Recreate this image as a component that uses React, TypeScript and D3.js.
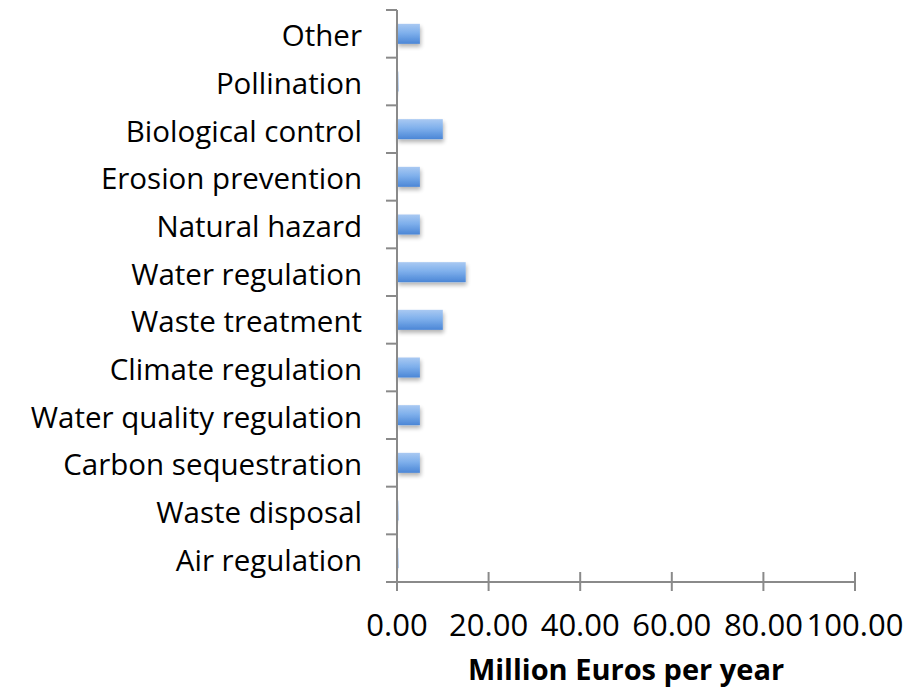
import React from "react";
import * as d3 from "d3";

const categories = [
  "Other",
  "Pollination",
  "Biological control",
  "Erosion prevention",
  "Natural hazard",
  "Water regulation",
  "Waste treatment",
  "Climate regulation",
  "Water quality regulation",
  "Carbon sequestration",
  "Waste disposal",
  "Air regulation",
];
const values = [5, 0.3, 10, 5, 5, 15, 10, 5, 5, 5, 0.3, 0.3];
const xTicks = [0, 20, 40, 60, 80, 100];
const xTitle = "Million Euros per year";

const W = 912;
const H = 689;
const FONT = "'Open Sans', 'Noto Sans', sans-serif";

export default function App() {
  const x = d3.scaleLinear().domain([0, 100]).range([397, 855]);
  const y = d3.scaleBand().domain(categories).range([10, 582]).paddingInner(0.58).paddingOuter(0.29);
  const bandEdges = d3.range(categories.length + 1).map((i) => 10 + i * (572 / categories.length));
  const axisColor = "#8a8a8a";
  return (
    <div style={{ position: "absolute", left: 0, top: 0, margin: 0 }}>
      <svg width={W} height={H} style={{ display: "block", background: "#fff" }}>
        <defs>
          <linearGradient id="barGrad" x1="0" y1="0" x2="0" y2="1">
            <stop offset="0%" stopColor="#a9c9f2" />
            <stop offset="45%" stopColor="#7fb0ec" />
            <stop offset="100%" stopColor="#4b86d6" />
          </linearGradient>
          <filter id="shadow" x="-20%" y="-30%" width="140%" height="190%">
            <feGaussianBlur in="SourceAlpha" stdDeviation="2" />
            <feOffset dx="1" dy="3" result="b" />
            <feComponentTransfer>
              <feFuncA type="linear" slope="0.3" />
            </feComponentTransfer>
            <feMerge>
              <feMergeNode />
              <feMergeNode in="SourceGraphic" />
            </feMerge>
          </filter>
        </defs>
        {categories.map((c, i) => (
          <rect
            key={c}
            x={x(0)}
            y={y(c)!}
            width={Math.max(x(values[i]) - x(0), 0.5)}
            height={y.bandwidth()}
            fill="url(#barGrad)"
            filter="url(#shadow)"
          />
        ))}
        {/* y axis */}
        <line x1={397} x2={397} y1={bandEdges[0]} y2={591} stroke={axisColor} strokeWidth={2} />
        {bandEdges.map((e, i) => (
          <line key={i} x1={386} x2={397} y1={e} y2={e} stroke={axisColor} strokeWidth={2} />
        ))}
        {categories.map((c) => (
          <text
            key={c}
            x={362}
            y={y(c)! + y.bandwidth() / 2 + 12.5}
            textAnchor="end"
            fontFamily={FONT}
            fontSize={29.5}
            fill="#000"
          >
            {c}
          </text>
        ))}
        {/* x axis */}
        <line x1={386} x2={x(100)} y1={582} y2={582} stroke={axisColor} strokeWidth={2} />
        {xTicks.map((t) => (
          <g key={t}>
            <line x1={x(t)} x2={x(t)} y1={572} y2={591} stroke={axisColor} strokeWidth={2} />
            <text
              x={x(t)}
              y={636}
              textAnchor="middle"
              fontFamily={FONT}
              fontSize={31}
              fill="#000"
            >
              {t.toFixed(2)}
            </text>
          </g>
        ))}
        <text
          x={(x(0) + x(100)) / 2}
          y={680}
          textAnchor="middle"
          fontFamily={FONT}
          fontSize={29}
          fontWeight="bold"
          fill="#000"
        >
          {xTitle}
        </text>
      </svg>
    </div>
  );
}
